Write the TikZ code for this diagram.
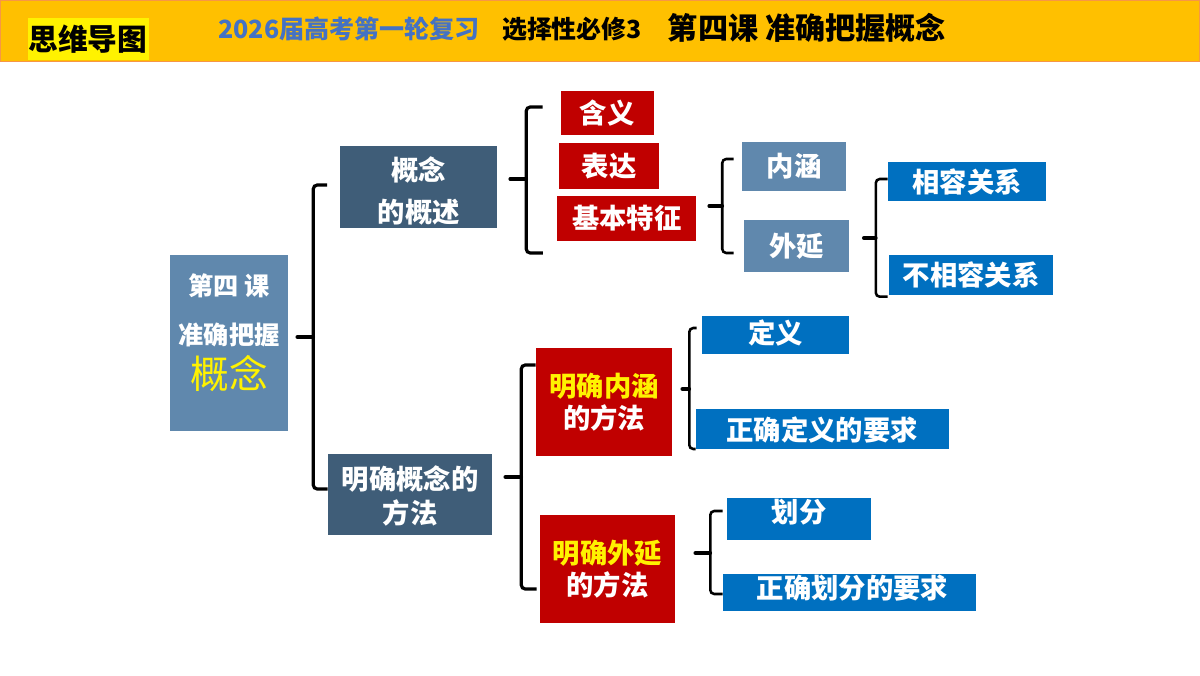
\documentclass[tikz,border=0pt]{standalone}
\usepackage{xcolor}
\usepackage{fontspec}
\setmainfont{Noto Sans CJK SC}
\usetikzlibrary{calc}
\definecolor{barorange}{HTML}{FFC000}
\definecolor{barline}{HTML}{F79646}
\definecolor{titleblue}{HTML}{4472C4}
\definecolor{deepred}{HTML}{C00000}
\definecolor{slatedark}{HTML}{3F5D78}
\definecolor{slatelight}{HTML}{6088AD}
\definecolor{boxblue}{HTML}{0070C0}
\tikzstyle{brace} = [line width=2.4pt, rounded corners=3pt]
\tikzstyle{thinbrace} = [line width=1.9pt, rounded corners=3pt]
\tikzstyle{stem} = [line width=2.7pt, line cap=round]
\tikzstyle{box} = [inner sep=0pt, align=center, text=white, font=\fontsize{20.5}{24}\selectfont\bfseries]
\tikzstyle{darkbox} = [box, fill=slatedark]
\tikzstyle{lightbox} = [box, fill=slatelight]
\tikzstyle{redbox} = [box, fill=deepred]
\tikzstyle{bluebox} = [box, fill=boxblue]
\tikzstyle{boxtext} = [inner sep=0pt, align=center, text=white, font=\fontsize{20.5}{24}\selectfont\bfseries]

\begin{document}
\begin{tikzpicture}[x=0.75pt, y=-0.75pt]
    \useasboundingbox (0, 0) rectangle (1200, 675);

    % Title bar
    \node[draw=barline, line width=0.75pt, fill=barorange, minimum width=899pt, minimum height=46pt, inner sep=0pt] (Bar) at (600, 31) {};
    \node[fill=yellow, minimum width=90.75pt, minimum height=31.5pt, inner sep=0pt, font=\fontsize{22.3}{24}\selectfont\bfseries] (Tag) at (88, 39) {思维导图};
    \node[text=titleblue, inner sep=0pt, font=\fontsize{18.8}{20}\selectfont\bfseries] (Review) at (349, 29) {2026届高考第一轮复习};
    \node[inner sep=0pt, font=\fontsize{18.7}{20}\selectfont\bfseries] (Book) at (572, 29) {选择性必修3};
    \node[inner sep=0pt, font=\fontsize{22.6}{24}\selectfont\bfseries] (Lesson) at (807, 28) {第四课 准确把握概念};

    % Root box
    \node[lightbox, minimum width=88.5pt, minimum height=132pt] (Root) at (229, 343) {};
    \node[boxtext, font=\fontsize{18.9}{20}\selectfont\bfseries] (RootA) at (229, 286) {第四 课};
    \node[boxtext, font=\fontsize{18.9}{20}\selectfont\bfseries] (RootB) at (229, 335) {准确把握};
    \node[boxtext, text=yellow, font=\fontsize{29}{30}\selectfont] (RootC) at (229, 374) {概念};

    % Second level
    \node[darkbox, minimum width=117.4pt, minimum height=61.5pt] (Concept) at (418.7, 187) {};
    \node[boxtext] (ConceptT) at (418.7, 191) {概念\\[7pt]的概述};
    \node[darkbox, minimum width=123pt, minimum height=60.75pt] (Method) at (410, 494.5) {};
    \node[boxtext] (MethodT) at (410, 495.5) {明确概念的\\[1.5pt]方法};

    % Upper branch
    \node[redbox, minimum width=69.5pt, minimum height=33pt] (Meaning) at (607.3, 113) {含义};
    \node[redbox, minimum width=74.6pt, minimum height=34.5pt] (Express) at (609.2, 166) {表达};
    \node[redbox, minimum width=104.5pt, minimum height=33.75pt] (Feature) at (626.7, 218.5) {基本特征};
    \node[lightbox, minimum width=78.4pt, minimum height=36.75pt] (Intension) at (794.2, 166.5) {内涵};
    \node[lightbox, minimum width=78.75pt, minimum height=39pt] (Extension) at (796.5, 246) {外延};
    \node[bluebox, minimum width=118.5pt, minimum height=29.25pt] (Compat) at (967, 181.5) {相容关系};
    \node[bluebox, minimum width=123pt, minimum height=30pt] (Incompat) at (971, 275) {不相容关系};

    % Lower branch
    \node[redbox, text=yellow, minimum width=102pt, minimum height=81pt] (ClearIn) at (604, 402) {明确内涵\\\textcolor{white}{的方法}};
    \node[redbox, text=yellow, minimum width=101.25pt, minimum height=81pt] (ClearEx) at (607.5, 569) {明确外延\\\textcolor{white}{的方法}};
    \node[bluebox, minimum width=110.25pt, minimum height=28.5pt] (Define) at (775.5, 335) {};
    \node[boxtext] (DefineT) at (775.5, 333) {定义};
    \node[bluebox, minimum width=189.75pt, minimum height=30pt] (DefineReq) at (822.5, 429) {};
    \node[boxtext] (DefineReqT) at (822, 430) {正确定义的要求};
    \node[bluebox, minimum width=108pt, minimum height=31.5pt] (Divide) at (799, 519) {};
    \node[boxtext] (DivideT) at (799, 512) {划分};
    \node[bluebox, minimum width=189.75pt, minimum height=27.75pt] (DivideReq) at (849.5, 592.5) {};
    \node[boxtext] (DivideReqT) at (852.5, 588.5) {正确划分的要求};

    % Spines of the brackets
    \coordinate (S1) at ($(Root.east)+(25,-6)$);
    \coordinate (S2) at ($(Concept.east)+(29,-8)$);
    \coordinate (S3) at ($(Feature.east)+(25.6,-12.5)$);
    \coordinate (S4) at ($(Extension.east)+(26.5,-8)$);
    \coordinate (S5) at ($(Method.east)+(29,-17.5)$);
    \coordinate (S6) at ($(ClearIn.east)+(17,-13)$);
    \coordinate (S7) at ($(ClearEx.east)+(35,-16)$);

    % Brackets
    \draw[stem] (S1) -- ++(-16, 0);
    \draw[brace] (S1) |- ($(Concept.west)+(-13,-2)$);
    \draw[brace] (S1) |- ($(Method.west)+(0,-5.5)$);
    \draw[stem] (S2) -- ++(-16, 0);
    \draw[brace] (S2) |- ($(Meaning.west)+(-18,-6)$);
    \draw[brace] (S2) |- ($(Feature.west)+(-14,34.5)$);
    \draw[stem] (S3) -- ++(-13, 0);
    \draw[thinbrace] (S3) |- ($(Intension.west)+(-8,-7.5)$);
    \draw[thinbrace] (S3) |- ($(Extension.west)+(-10,7)$);
    \draw[stem] (S4) -- ++(-12, 0);
    \draw[thinbrace] (S4) |- ($(Compat.west)+(0,-2.5)$);
    \draw[thinbrace] (S4) |- ($(Incompat.west)+(-1,21.7)$);
    \draw[stem] (S5) -- ++(-16, 0);
    \draw[brace] (S5) |- ($(ClearIn.west)+(0,-37)$);
    \draw[brace] (S5) |- ($(ClearEx.west)+(-3,20)$);
    \draw[stem] (S6) -- ++(-7, 0);
    \draw[thinbrace] (S6) |- ($(Define.west)+(-5,-7)$);
    \draw[thinbrace] (S6) |- ($(DefineReq.west)+(0,20)$);
    \draw[stem] (S7) -- ++(-15, 0);
    \draw[thinbrace] (S7) |- ($(Divide.west)+(-4,-8)$);
    \draw[thinbrace] (S7) |- ($(DivideReq.west)+(0,1.5)$);
\end{tikzpicture}
\end{document}
